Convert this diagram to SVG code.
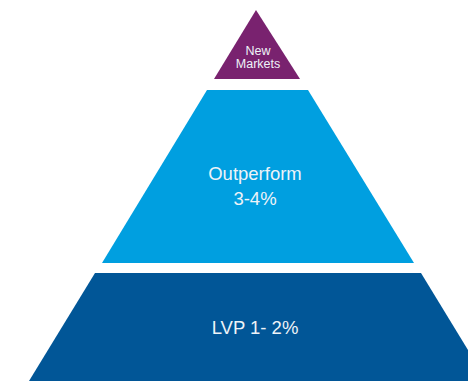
<svg xmlns="http://www.w3.org/2000/svg" width="468" height="381" viewBox="0 0 468 381">
<style>
.lbl{font-family:"Liberation Sans",Arial,sans-serif;fill:#eef3f8;text-anchor:middle}
</style>
<rect width="468" height="381" fill="#ffffff"/>
<g id="new-markets">
<polygon points="256,10 300,79 214,79" fill="#79226f"/>
<text class="lbl" x="258" y="55" font-size="12.5">New</text>
<text class="lbl" x="258" y="68" font-size="12.5">Markets</text>
</g>
<g id="outperform">
<polygon points="207,90 308,90 414,263 102,263" fill="#009fe0"/>
<text class="lbl" x="255" y="180" font-size="18.5">Outperform</text>
<text class="lbl" x="255" y="205" font-size="18.5">3-4%</text>
</g>
<g id="lvp">
<polygon points="95,273 421,273 487,381 29,381" fill="#015697"/>
<text class="lbl" x="255" y="334" font-size="18.5">LVP 1- 2%</text>
</g>
<g id="connectors"></g>
</svg>
